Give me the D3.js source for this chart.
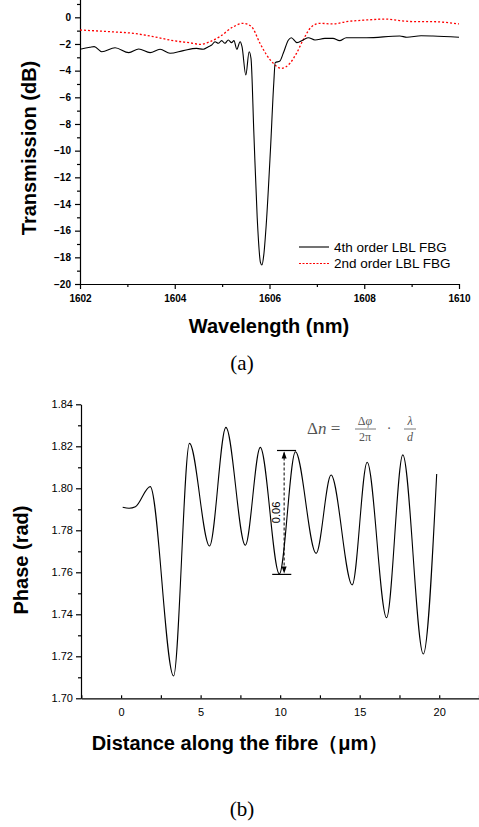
<!DOCTYPE html>
<html>
<head>
<meta charset="UTF-8">
<title>LBL FBG transmission and phase</title>
<style>
    body { margin: 0; padding: 0; background: #fff; }
    svg { display: block; font-family: Arial, "Liberation Sans", sans-serif; }
    .axis path, .axis line { stroke: #000; stroke-width: 1.2px; }
    .bigtitle { font-weight: bold; font-size: 20px; }
    .caption { font-family: "Liberation Serif", "Times New Roman", serif; font-size: 21px; }
</style>
</head>
<body>
<div id="chart"></div>
<script src="https://d3js.org/d3.v7.min.js"></script>
<script>
// (a) transmission spectra
const wl4 = [1602, 1602.21, 1602.3, 1602.46, 1602.74, 1603.03, 1603.24, 1603.48, 1603.69, 1603.9, 1604.18, 1604.46, 1604.6, 1604.71, 1604.78, 1604.85, 1604.92, 1604.99, 1605.06, 1605.13, 1605.2, 1605.25, 1605.31, 1605.38, 1605.42, 1605.5, 1605.57, 1605.61, 1605.67, 1605.74, 1605.81, 1605.84, 1605.88, 1605.93, 1606.02, 1606.09, 1606.12, 1606.22, 1606.29, 1606.4, 1606.46, 1606.58, 1606.71, 1606.82, 1606.96, 1607.17, 1607.34, 1607.48, 1607.62, 1608.05, 1608.75, 1608.9, 1609.2, 1609.45, 1610];
const tr4 = [-2.4, -2.25, -2.2, -2.58, -2.28, -2.65, -2.38, -2.65, -2.4, -2.7, -2.5, -2.33, -2.4, -2.2, -2.08, -1.83, -1.95, -1.75, -1.95, -1.7, -1.9, -1.75, -2.4, -1.83, -2.2, -4.33, -2.58, -3.1, -8.7, -15.0, -18.4, -18.58, -17.8, -15.6, -9.95, -4.95, -3.4, -3.28, -2.7, -1.7, -1.53, -1.9, -1.7, -1.53, -1.7, -1.58, -1.58, -1.75, -1.53, -1.53, -1.4, -1.5, -1.38, -1.4, -1.5];
const wl2 = [1602, 1602.63, 1603.12, 1603.55, 1603.97, 1604.39, 1604.53, 1604.74, 1604.95, 1605.24, 1605.45, 1605.62, 1605.8, 1605.94, 1606.08, 1606.25, 1606.43, 1606.57, 1606.71, 1606.89, 1607.06, 1607.34, 1607.62, 1608.05, 1608.47, 1608.75, 1609.1, 1609.45, 1610];
const tr2 = [-0.95, -1.08, -1.2, -1.45, -1.75, -1.95, -2.03, -1.83, -1.45, -0.7, -0.45, -0.7, -1.95, -2.83, -3.45, -3.83, -3.45, -2.7, -1.7, -0.7, -0.45, -0.5, -0.33, -0.2, -0.13, -0.25, -0.33, -0.33, -0.5];
const legendLabels = ["4th order LBL FBG", "2nd order LBL FBG"];

// (b) phase along the fibre
const dist = [0.1, 0.5, 0.9, 1.83, 3.3, 4.3, 5.56, 6.59, 7.81, 8.75, 9.95, 10.96, 12.26, 13.2, 14.53, 15.47, 16.69, 17.71, 19.0, 19.84];
const phase = [1.791, 1.7905, 1.7912, 1.8008, 1.7106, 1.8214, 1.7725, 1.829, 1.7729, 1.8195, 1.7592, 1.8174, 1.769, 1.8063, 1.754, 1.8124, 1.7384, 1.8159, 1.7211, 1.8068];
const markTop = 1.818, markBottom = 1.759, markLabel = "0.06";

const svg = d3.select("#chart").append("svg")
    .attr("width", 479).attr("height", 827);

// ---------- panel (a) ----------
const xa = d3.scaleLinear().domain([1602, 1610]).range([80, 459]);
const ya = d3.scaleLinear().domain([-20, 2]).range([284, 17.3 - 2 * 13.33]);

const ga = svg.append("g");
// minor ticks
ga.append("g").attr("class", "axis").attr("transform", "translate(80,0)")
    .call(d3.axisLeft(ya).tickValues(d3.range(-19, 2, 2)).tickSize(3).tickFormat(""))
    .select(".domain").remove();
ga.append("g").attr("class", "axis").attr("transform", "translate(80,0)")
    .call(d3.axisLeft(ya).tickValues(d3.range(-20, 1, 2)).tickSize(5).tickSizeOuter(0).tickPadding(4))
    .call(g => g.selectAll("text").attr("font-size", 10).attr("font-weight", "bold").attr("font-family", "Arial, sans-serif"));
ga.append("g").attr("class", "axis").attr("transform", "translate(0,284)")
    .call(d3.axisBottom(xa).tickValues(d3.range(1603, 1610, 2)).tickSize(3).tickFormat(""))
    .select(".domain").remove();
ga.append("g").attr("class", "axis").attr("transform", "translate(0,284)")
    .call(d3.axisBottom(xa).tickValues(d3.range(1602, 1611, 2)).tickSize(5).tickSizeOuter(0).tickPadding(6).tickFormat(d3.format("d")))
    .call(g => g.selectAll("text").attr("font-size", 10).attr("font-weight", "bold").attr("font-family", "Arial, sans-serif"));

const lineA = d3.line().x(d => xa(d[0])).y(d => ya(d[1])).curve(d3.curveMonotoneX);
ga.append("path").datum(d3.zip(wl2, tr2)).attr("d", lineA)
    .attr("fill", "none").attr("stroke", "#f00").attr("stroke-width", 1.3).attr("stroke-dasharray", "2,2");
ga.append("path").datum(d3.zip(wl4, tr4)).attr("d", lineA)
    .attr("fill", "none").attr("stroke", "#000").attr("stroke-width", 1.1);

// legend
const leg = ga.append("g");
legendLabels.forEach((t, i) => {
    const y = 247 + i * 16.5;
    leg.append("line").attr("x1", 299).attr("x2", 329).attr("y1", y).attr("y2", y)
        .attr("stroke", i ? "#f00" : "#000").attr("stroke-width", 1.1)
        .attr("stroke-dasharray", i ? "2,1.5" : null);
    leg.append("text").attr("x", 334).attr("y", y + 4.5).attr("font-size", 13.5).text(t);
});

ga.append("text").attr("class", "bigtitle").attr("text-anchor", "middle")
    .attr("x", 269).attr("y", 333).text("Wavelength (nm)");
ga.append("text").attr("class", "bigtitle").attr("text-anchor", "middle")
    .attr("transform", "translate(36,148) rotate(-90)").text("Transmission (dB)");
ga.append("text").attr("class", "caption").attr("text-anchor", "middle")
    .attr("x", 242).attr("y", 370).text("(a)");

// ---------- panel (b) ----------
const xb = d3.scaleLinear().domain([-2.52, 22.5]).range([81, 479]);
const yb = d3.scaleLinear().domain([1.70, 1.84]).range([698.3, 404.3]);

const gb = svg.append("g");
gb.append("g").attr("class", "axis").attr("transform", "translate(81,0)")
    .call(d3.axisLeft(yb).tickValues(d3.range(1.71, 1.84, 0.02)).tickSize(3).tickFormat(""))
    .select(".domain").remove();
gb.append("g").attr("class", "axis").attr("transform", "translate(81,0)")
    .call(d3.axisLeft(yb).tickValues(d3.range(1.70, 1.845, 0.02)).tickSize(5).tickSizeOuter(0).tickPadding(3).tickFormat(d3.format(".2f")))
    .call(g => g.selectAll("text").attr("font-size", 11).attr("font-family", "Arial, sans-serif"));
gb.append("g").attr("class", "axis").attr("transform", "translate(0,698.3)")
    .call(d3.axisTop(xb).tickValues(d3.range(-2.5, 22.6, 2.5)).tickSize(3).tickSizeOuter(0).tickFormat(""));
gb.append("g").attr("class", "axis").attr("transform", "translate(0,698.3)")
    .call(d3.axisBottom(xb).tickValues([0, 5, 10, 15, 20]).tickSize(0).tickPadding(10))
    .call(g => g.select(".domain").remove())
    .call(g => g.selectAll("text").attr("font-size", 11).attr("font-family", "Arial, sans-serif"));

const lineB = d3.line().x(d => xb(d[0])).y(d => yb(d[1])).curve(d3.curveMonotoneX);
gb.append("path").datum(d3.zip(dist, phase)).attr("d", lineB)
    .attr("fill", "none").attr("stroke", "#000").attr("stroke-width", 1.1);

// amplitude marker
const mx = xb(10.25);
gb.append("line").attr("x1", xb(9.8)).attr("x2", xb(11.0)).attr("y1", yb(markTop)).attr("y2", yb(markTop)).attr("stroke", "#000").attr("stroke-width", 1.2);
gb.append("line").attr("x1", xb(9.5)).attr("x2", xb(10.7)).attr("y1", yb(markBottom)).attr("y2", yb(markBottom)).attr("stroke", "#000").attr("stroke-width", 1.2);
gb.append("line").attr("x1", mx).attr("x2", mx).attr("y1", yb(markTop) + 2).attr("y2", yb(markBottom) - 2)
    .attr("stroke", "#000").attr("stroke-width", 1).attr("stroke-dasharray", "3,2");
gb.append("path").attr("d", `M${mx},${yb(markTop) + 1} l-2.5,7 h5 Z M${mx},${yb(markBottom) - 1} l-2.5,-7 h5 Z`).attr("fill", "#000");
gb.append("text").attr("text-anchor", "middle").attr("font-size", 11)
    .attr("transform", `translate(${mx - 4},${yb(1.7885)}) rotate(-90)`).text(markLabel);

// formula
const fm = gb.append("g").attr("fill", "#555").attr("font-family", "'Liberation Serif', serif");
fm.append("text").attr("x", 307).attr("y", 434).attr("font-size", 17).html("&#916;<tspan font-style='italic'>n</tspan> =");
fm.append("text").attr("x", 365).attr("y", 425).attr("font-size", 12).attr("text-anchor", "middle").html("&#916;<tspan font-style='italic'>&#966;</tspan>");
fm.append("line").attr("x1", 355).attr("x2", 376).attr("y1", 429).attr("y2", 429).attr("stroke", "#555").attr("stroke-width", 0.8);
fm.append("text").attr("x", 365).attr("y", 441).attr("font-size", 12).attr("text-anchor", "middle").text("2π");
fm.append("text").attr("x", 389).attr("y", 433).attr("font-size", 14).attr("text-anchor", "middle").text("·");
fm.append("text").attr("x", 410).attr("y", 425).attr("font-size", 12).attr("text-anchor", "middle").attr("font-style", "italic").text("λ");
fm.append("line").attr("x1", 404).attr("x2", 416).attr("y1", 429).attr("y2", 429).attr("stroke", "#555").attr("stroke-width", 0.8);
fm.append("text").attr("x", 410).attr("y", 441).attr("font-size", 12).attr("text-anchor", "middle").attr("font-style", "italic").text("d");

gb.append("text").attr("class", "bigtitle").attr("text-anchor", "middle")
    .attr("x", 240).attr("y", 750).text("Distance along the fibre（μm）");
gb.append("text").attr("class", "bigtitle").attr("text-anchor", "middle")
    .attr("transform", "translate(28,560) rotate(-90)").text("Phase (rad)");
gb.append("text").attr("class", "caption").attr("text-anchor", "middle")
    .attr("x", 242).attr("y", 816).text("(b)");
</script>
</body>
</html>
